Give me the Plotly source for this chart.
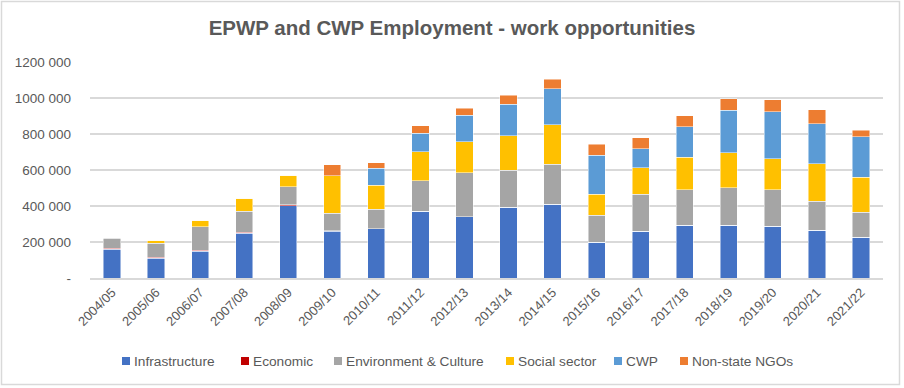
import plotly.graph_objects as go

years = ["2004/05", "2005/06", "2006/07", "2007/08", "2008/09", "2009/10", "2010/11",
         "2011/12", "2012/13", "2013/14", "2014/15", "2015/16", "2016/17", "2017/18",
         "2018/19", "2019/20", "2020/21", "2021/22"]

infrastructure = [160000, 110000, 148000, 248000, 402000, 260000, 275000, 372000, 340000,
                  392000, 410000, 200000, 260000, 294000, 294000, 288000, 266000, 227000]
economic = [5000, 5000, 6000, 6000, 4000, 2000, 0, 0, 0, 0, 0, 0, 0, 0, 0, 0, 0, 0]
environment = [55000, 78000, 130000, 117000, 101000, 99000, 108000, 167000, 245000,
               208000, 223000, 149000, 206000, 195000, 207000, 201000, 161000, 139000]
social = [5000, 17000, 37000, 71000, 65000, 208000, 133000, 163000, 173000,
          189000, 219000, 117000, 147000, 183000, 194000, 174000, 208000, 195000]
cwp = [0, 0, 0, 0, 0, 0, 93000, 102000, 145000, 177000, 199000, 216000, 104000,
       168000, 238000, 262000, 223000, 223000]
ngos = [0, 0, 0, 0, 0, 61000, 32000, 41000, 39000, 50000, 52000, 61000, 61000,
        61000, 64000, 65000, 78000, 37000]

series_names = ["Infrastructure", "Economic", "Environment & Culture", "Social sector",
                "CWP", "Non-state NGOs"]
series_values = [infrastructure, economic, environment, social, cwp, ngos]
series_colors = ["#4472C4", "#C00000", "#A5A5A5", "#FFC000", "#5B9BD5", "#ED7D31"]

tick_vals = [0, 200000, 400000, 600000, 800000, 1000000, 1200000]
tick_text = ["-", "200 000", "400 000", "600 000", "800 000", "1000 000", "1200 000"]

W, H = 904, 388
L, R, T, B = 90, 883, 62, 278
pw, ph = R - L, B - T

def px_x(px):
    return (px - L) / pw

def px_y(py):
    return (B - py) / ph

fig = go.Figure()
for name, vals, color in zip(series_names, series_values, series_colors):
    fig.add_trace(go.Bar(
        x=years, y=vals, name=name, showlegend=False,
        marker=dict(color=color, line=dict(color="rgba(255,255,255,0.6)", width=0.8)),
    ))

font_family = "Liberation Sans, Arial, sans-serif"
grey = "#595959"

# custom legend (Excel-like: small square right next to the label)
legend_sq_x = [122, 241, 334, 506, 614, 680]
legend_y = 361
shapes = []
annotations = []
for name, color, sx in zip(series_names, series_colors, legend_sq_x):
    shapes.append(dict(type="rect", xref="paper", yref="paper",
                       x0=px_x(sx), x1=px_x(sx + 8), y0=px_y(legend_y + 4), y1=px_y(legend_y - 4),
                       fillcolor=color, line=dict(width=0)))
    annotations.append(dict(xref="paper", yref="paper", x=px_x(sx + 10), y=px_y(legend_y),
                            xanchor="left", yanchor="middle", showarrow=False, text=name,
                            font=dict(size=13.7, color=grey, family=font_family)))

shapes.append(dict(type="rect", xref="paper", yref="paper",
                   x0=px_x(1.5), x1=px_x(899.5), y0=px_y(384.5), y1=px_y(1.5),
                   line=dict(color="#D9D9D9", width=1.5), layer="below"))

fig.update_layout(
    barmode="stack",
    bargap=0.61,
    width=W, height=H,
    margin=dict(l=L, r=W - R, t=T, b=H - B),
    paper_bgcolor="white",
    plot_bgcolor="white",
    font=dict(family=font_family, size=13, color=grey),
    title=dict(text="<b>EPWP and CWP Employment - work opportunities</b>",
               x=0.5, xanchor="center", y=1 - 28 / H, yanchor="middle",
               font=dict(size=20.5, color=grey, family=font_family)),
    xaxis=dict(tickangle=-45, tickfont=dict(size=13, color=grey),
               showgrid=False, showline=True, linecolor="#D9D9D9", linewidth=1.5, ticks=""),
    yaxis=dict(range=[0, 1200000], tickvals=tick_vals, ticktext=tick_text,
               showgrid=True, gridcolor="#D9D9D9", gridwidth=1.5, zeroline=False,
               tickfont=dict(size=13.5, color=grey), ticks="", ticklabelstandoff=18),
    showlegend=False,
    shapes=shapes,
    annotations=annotations,
)

fig.write_html("out.html",
               config={"displayModeBar": False},
               post_script="document.body.style.margin='0';document.body.style.overflow='hidden';")
